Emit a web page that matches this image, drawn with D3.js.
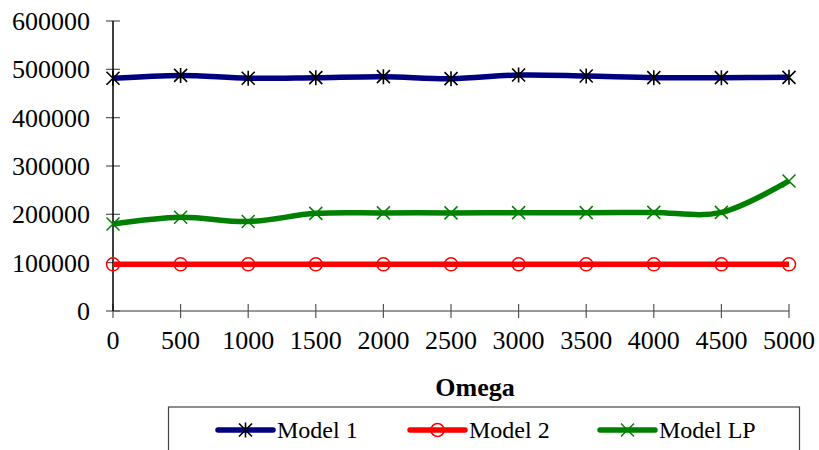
<!DOCTYPE html>
<html>
<head>
<meta charset="utf-8">
<script src="https://cdn.jsdelivr.net/npm/d3@7"></script>
<style>
  svg text { font-family: "Liberation Serif", "Tinos", "Times New Roman", serif !important; }
</style>
</head>
<body style="margin:0">
<svg id="chart" width="819" height="450" font-family="Liberation Serif"></svg>
<script>
// Omega values along the x axis
const omega = [0, 500, 1000, 1500, 2000, 2500, 3000, 3500, 4000, 4500, 5000];

// Objective values per model
const model1  = [481500, 487500, 481500, 482800, 484800, 480700, 488300, 486200, 482800, 482800, 483400];
const model2  = [96500, 96500, 96500, 96500, 96500, 96500, 96500, 96500, 96500, 96500, 96500];
const modelLP = [180000, 194000, 185000, 202000, 203000, 203000, 203500, 203500, 204000, 204000, 269000];

const yTicks = [0, 100000, 200000, 300000, 400000, 500000, 600000];
const seriesNames = ["Model 1", "Model 2", "Model LP"];

const series = [
  { name: seriesNames[0], values: model1,  color: "#000080", marker: "star",   markerColor: "#000" },
  { name: seriesNames[1], values: model2,  color: "#FF0000", marker: "circle", markerColor: "#FF0000" },
  { name: seriesNames[2], values: modelLP, color: "#008000", marker: "cross",  markerColor: "#008000" }
];

const svg = d3.select("#chart");

const x = d3.scaleLinear().domain([0, 5000]).range([113, 789]);
const y = d3.scaleLinear().domain([0, 600000]).range([311, 21]);

// Smoothed lines
const line = d3.line()
  .x((d, i) => x(omega[i]))
  .y(d => y(d))
  .curve(d3.curveCardinal.tension(0));

function drawMarker(g, type, color, cx, cy) {
  const s = 6.5;
  if (type === "circle") {
    g.append("circle").attr("cx", cx).attr("cy", cy).attr("r", s)
      .attr("fill", "none").attr("stroke", color).attr("stroke-width", 1.5);
  } else if (type === "cross") {
    g.append("path")
      .attr("d", `M${cx - s},${cy - s}L${cx + s},${cy + s}M${cx - s},${cy + s}L${cx + s},${cy - s}`)
      .attr("stroke", color).attr("stroke-width", 1.5).attr("fill", "none");
  } else {
    g.append("path")
      .attr("d", `M${cx - s},${cy - s}L${cx + s},${cy + s}M${cx - s},${cy + s}L${cx + s},${cy - s}M${cx},${cy - s - 1}L${cx},${cy + s + 1}`)
      .attr("stroke", color).attr("stroke-width", 1.6).attr("fill", "none");
  }
}

// Axes: lines and crossing ticks drawn from the scales
const axes = svg.append("g");
axes.append("line")
  .attr("x1", x(0)).attr("x2", x(5000)).attr("y1", y(0)).attr("y2", y(0))
  .attr("stroke", "#777").attr("stroke-width", 1.5);
axes.selectAll(".xt").data(omega).join("line").attr("class", "xt")
  .attr("x1", d => x(d)).attr("x2", d => x(d)).attr("y1", y(0) - 7).attr("y2", y(0) + 7)
  .attr("stroke", "#555").attr("stroke-width", 1.2);
axes.selectAll(".yt").data(yTicks).join("line").attr("class", "yt")
  .attr("x1", x(0) - 7).attr("x2", x(0) + 7).attr("y1", d => y(d)).attr("y2", d => y(d))
  .attr("stroke", "#555").attr("stroke-width", 1.2);
axes.append("line")
  .attr("x1", x(0)).attr("x2", x(0)).attr("y1", y(600000)).attr("y2", y(0))
  .attr("stroke", "#000").attr("stroke-width", 1.5);

// Tick labels
svg.selectAll(".xl").data(omega).join("text").attr("class", "xl")
  .attr("x", d => x(d)).attr("y", 349)
  .attr("text-anchor", "middle")
  .attr("font-family", "Liberation Serif").attr("font-size", 26)
  .text(d => d);

svg.selectAll(".yl").data(yTicks).join("text").attr("class", "yl")
  .attr("x", 90).attr("y", d => y(d) + 9)
  .attr("text-anchor", "end")
  .attr("font-family", "Liberation Serif").attr("font-size", 26)
  .text(d => d);

// Axis title
svg.append("text")
  .attr("x", 475).attr("y", 396)
  .attr("text-anchor", "middle")
  .attr("font-family", "Liberation Serif").attr("font-size", 26).attr("font-weight", "bold")
  .text("Omega");

const plot = svg.append("g");
series.forEach(s => {
  plot.append("path")
    .attr("d", line(s.values))
    .attr("fill", "none").attr("stroke", s.color)
    .attr("stroke-width", 5.5).attr("stroke-linejoin", "round");
});
series.forEach(s => {
  const mg = plot.append("g");
  s.values.forEach((v, i) => drawMarker(mg, s.marker, s.markerColor, x(omega[i]), y(v)));
});

// Legend
const legend = svg.append("g");
legend.append("rect")
  .attr("x", 168.5).attr("y", 407).attr("width", 631).attr("height", 80)
  .attr("fill", "#fff").attr("stroke", "#444").attr("stroke-width", 1.2);

const legendX = [218, 410, 600];
series.forEach((s, i) => {
  const lx = legendX[i];
  const ly = 430;
  legend.append("line")
    .attr("x1", lx).attr("x2", lx + 55).attr("y1", ly).attr("y2", ly)
    .attr("stroke", s.color).attr("stroke-width", 5.5).attr("stroke-linecap", "round");
  drawMarker(legend, s.marker, s.markerColor, lx + 27.5, ly);
  legend.append("text")
    .attr("x", lx + 59).attr("y", 438)
    .attr("font-family", "Liberation Serif").attr("font-size", 24)
    .text(s.name);
});
</script>
</body>
</html>
